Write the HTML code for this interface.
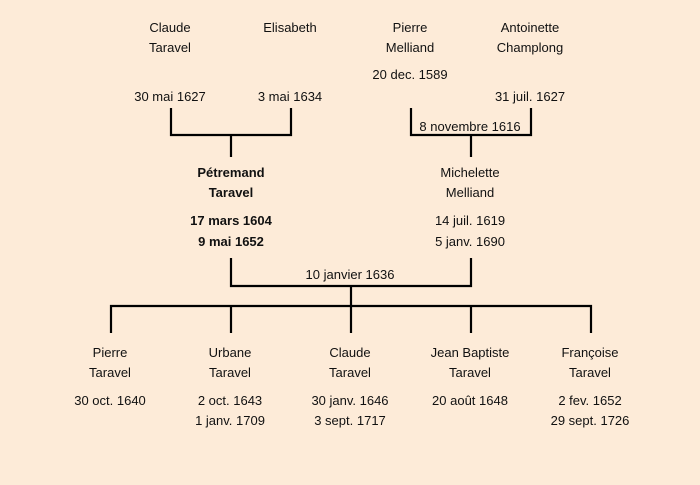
<!DOCTYPE html>
<html><head><meta charset="utf-8"><style>
html,body{margin:0;padding:0;background:#fdebd8;}
svg{display:block}
text{font-family:"Liberation Sans",sans-serif;font-size:13px;fill:#111;text-anchor:middle;}
.b{font-weight:bold}
</style></head><body>
<svg width="700" height="485" viewBox="0 0 700 485">
<rect width="700" height="485" fill="#fdebd8"/>
<g stroke="#000" stroke-width="2.2" fill="none">
<path d="M171 108V135H291V108M231 135V157"/>
<path d="M411 108V135H531V108M471 135V157"/>
<path d="M231 258V286H471V258M351 286V306"/>
<path d="M111 333V306H591V333M231 306V333M351 306V333M471 306V333"/>
</g>
<g>
<text x="170" y="32">Claude</text><text x="170" y="52">Taravel</text>
<text x="290" y="32">Elisabeth</text>
<text x="410" y="32">Pierre</text><text x="410" y="52">Melliand</text>
<text x="530" y="32">Antoinette</text><text x="530" y="52">Champlong</text>
<text x="410" y="79">20 dec. 1589</text>
<text x="170" y="101">30 mai 1627</text>
<text x="290" y="101">3 mai 1634</text>
<text x="530" y="101">31 juil. 1627</text>
<text x="470" y="131">8 novembre 1616</text>
<text class="b" x="231" y="177">Pétremand</text><text class="b" x="231" y="197">Taravel</text>
<text class="b" x="231" y="225">17 mars 1604</text><text class="b" x="231" y="246">9 mai 1652</text>
<text x="470" y="177">Michelette</text><text x="470" y="197">Melliand</text>
<text x="470" y="225">14 juil. 1619</text><text x="470" y="246">5 janv. 1690</text>
<text x="350" y="279">10 janvier 1636</text>
<text x="110" y="357">Pierre</text><text x="110" y="377">Taravel</text><text x="110" y="405">30 oct. 1640</text>
<text x="230" y="357">Urbane</text><text x="230" y="377">Taravel</text><text x="230" y="405">2 oct. 1643</text><text x="230" y="425">1 janv. 1709</text>
<text x="350" y="357">Claude</text><text x="350" y="377">Taravel</text><text x="350" y="405">30 janv. 1646</text><text x="350" y="425">3 sept. 1717</text>
<text x="470" y="357">Jean Baptiste</text><text x="470" y="377">Taravel</text><text x="470" y="405">20 août 1648</text>
<text x="590" y="357">Françoise</text><text x="590" y="377">Taravel</text><text x="590" y="405">2 fev. 1652</text><text x="590" y="425">29 sept. 1726</text>
</g>
</svg>
</body></html>
